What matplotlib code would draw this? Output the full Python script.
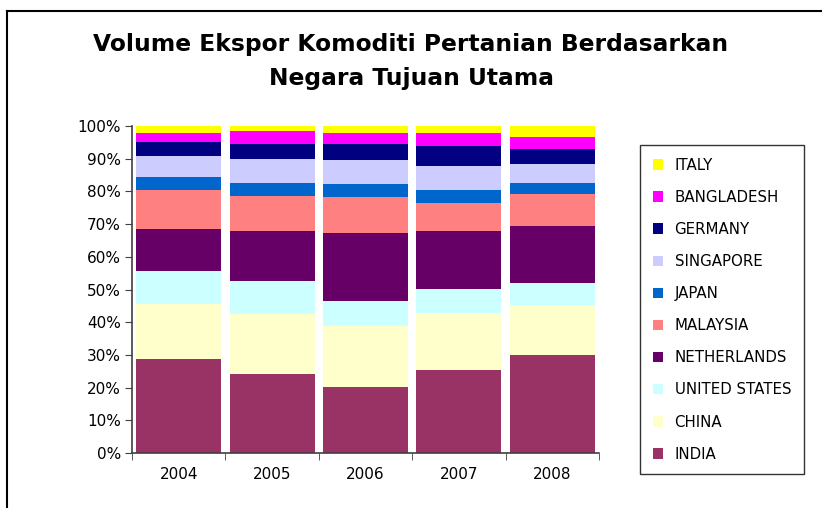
import matplotlib.pyplot as plt
from matplotlib.lines import Line2D
import numpy as np

tahun = ["2004", "2005", "2006", "2007", "2008"]

negara = ["INDIA", "CHINA", "UNITED STATES", "NETHERLANDS", "MALAYSIA",
          "JAPAN", "SINGAPORE", "GERMANY", "BANGLADESH", "ITALY"]

# persentase tiap negara per tahun
india = [28.7, 24.1, 20.1, 25.3, 29.9]
china = [16.8, 18.3, 18.7, 17.5, 15.3]
amerika = [10.1, 10.2, 7.6, 7.3, 6.7]
belanda = [12.9, 15.3, 20.8, 17.8, 17.5]
malaysia = [11.9, 10.7, 11.1, 8.5, 9.8]
jepang = [4.0, 4.0, 3.9, 4.0, 3.4]
singapura = [6.4, 7.3, 7.4, 7.4, 5.8]
jerman = [4.3, 4.6, 4.9, 6.1, 4.6]
bangladesh = [2.9, 4.1, 3.4, 4.0, 3.6]
italia = [2.0, 1.4, 2.1, 2.1, 3.4]

warna = ["#993366", "#FFFFCC", "#CCFFFF", "#660066", "#FF8080",
         "#0066CC", "#CCCCFF", "#000080", "#FF00FF", "#FFFF00"]

data = np.array([india, china, amerika, belanda, malaysia,
                 jepang, singapura, jerman, bangladesh, italia])
data = data / data.sum(axis=0) * 100.0

W, H = 822, 508
fig = plt.figure(figsize=(W / 100, H / 100), dpi=100)
ax = fig.add_axes([132 / W, 1 - 453 / H, (599 - 132) / W, (453 - 126) / H])

x = np.arange(len(tahun))
bawah = np.zeros(len(tahun))
handles = []
for nilai, nama, c in zip(data, negara, warna):
    b = ax.bar(x, nilai, bottom=bawah, width=0.91, color=c, label=nama)
    handles.append(b)
    bawah += nilai

ax.set_xlim(-0.5, len(tahun) - 0.5)
ax.set_ylim(0, 100)
ax.set_yticks(np.arange(0, 101, 10))
ax.set_yticklabels([f"{v}%" for v in range(0, 101, 10)], fontsize=11)
ax.set_xticks(x)
ax.set_xticklabels(tahun, fontsize=11)
ax.tick_params(axis="x", length=0, pad=10)
ax.set_xticks(np.arange(-0.5, len(tahun)), minor=True)
ax.tick_params(axis="x", which="minor", length=5, color="#404040")
ax.tick_params(axis="y", length=5, color="#404040", pad=3)
for s in ["top", "right"]:
    ax.spines[s].set_visible(False)
for s in ["left", "bottom"]:
    ax.spines[s].set_color("#404040")
    ax.spines[s].set_linewidth(1.2)

fig.text(0.5, 1 - 45 / H, "Volume Ekspor Komoditi Pertanian Berdasarkan",
         ha="center", va="center", fontsize=16.8, fontweight="bold")
fig.text(0.5, 1 - 79 / H, "Negara Tujuan Utama",
         ha="center", va="center", fontsize=16.8, fontweight="bold")

leg = fig.legend(handles[::-1], negara[::-1], loc="upper left",
                 bbox_to_anchor=(640 / W, 1 - 145 / H), borderaxespad=0,
                 fontsize=10.8, frameon=True, fancybox=False,
                 edgecolor="black", handlelength=0.7, handleheight=0.7,
                 labelspacing=1.14, borderpad=0.85, handletextpad=0.75)
leg.get_frame().set_linewidth(1.0)

# bingkai luar (terpotong di kanan dan bawah)
fig.add_artist(Line2D([7 / W, 1], [1 - 11 / H, 1 - 11 / H], color="black", lw=1.5))
fig.add_artist(Line2D([7 / W, 7 / W], [1 - 11 / H, 0], color="black", lw=1.5))

fig.savefig("out.png", dpi=100)
